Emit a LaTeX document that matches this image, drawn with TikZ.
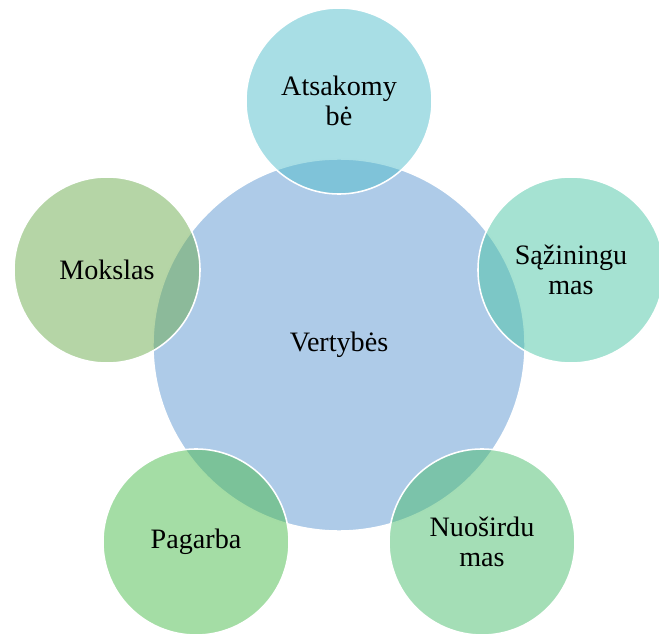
\documentclass[tikz,border=0pt]{standalone}
\usepackage{fontspec}
\setmainfont{Liberation Serif}
\definecolor{coreblue}{RGB}{174,203,232}
\definecolor{tealtop}{RGB}{81,189,203}
\definecolor{mintright}{RGB}{75,197,165}
\definecolor{oliveleft}{RGB}{107,171,77}
\definecolor{greenbr}{RGB}{73,189,109}
\definecolor{greenbl}{RGB}{73,187,75}
\tikzset{
  core/.style={circle,draw=white,line width=1.1pt,fill=coreblue,
    minimum size=9.3cm,inner sep=0pt,font=\fontsize{20}{21.5}\selectfont},
  value/.style={circle,draw=white,line width=1.1pt,fill opacity=0.5,
    text opacity=1,minimum size=4.65cm,inner sep=0pt,align=center,
    font=\fontsize{20}{21.5}\selectfont}
}
\begin{document}
\begin{tikzpicture}[x=0.025cm,y=0.025cm]
  \useasboundingbox (0,0) rectangle (659,634);
  % centre, then five values on a pentagon of radius 244
  \node[core] (vert) at (339,289) {Vertybės};
  \node[value,fill=tealtop] (atsak) at (339,533) {Atsakomy\\bė};
  \node[value,fill=mintright] (sazin) at (571,364) {Sąžiningu\\mas};
  \node[value,fill=greenbr] (nuosird) at (482,92) {Nuoširdu\\mas};
  \node[value,fill=greenbl] (pagarba) at (196,92) {Pagarba};
  \node[value,fill=oliveleft] (mokslas) at (107,364) {Mokslas};
\end{tikzpicture}
\end{document}
